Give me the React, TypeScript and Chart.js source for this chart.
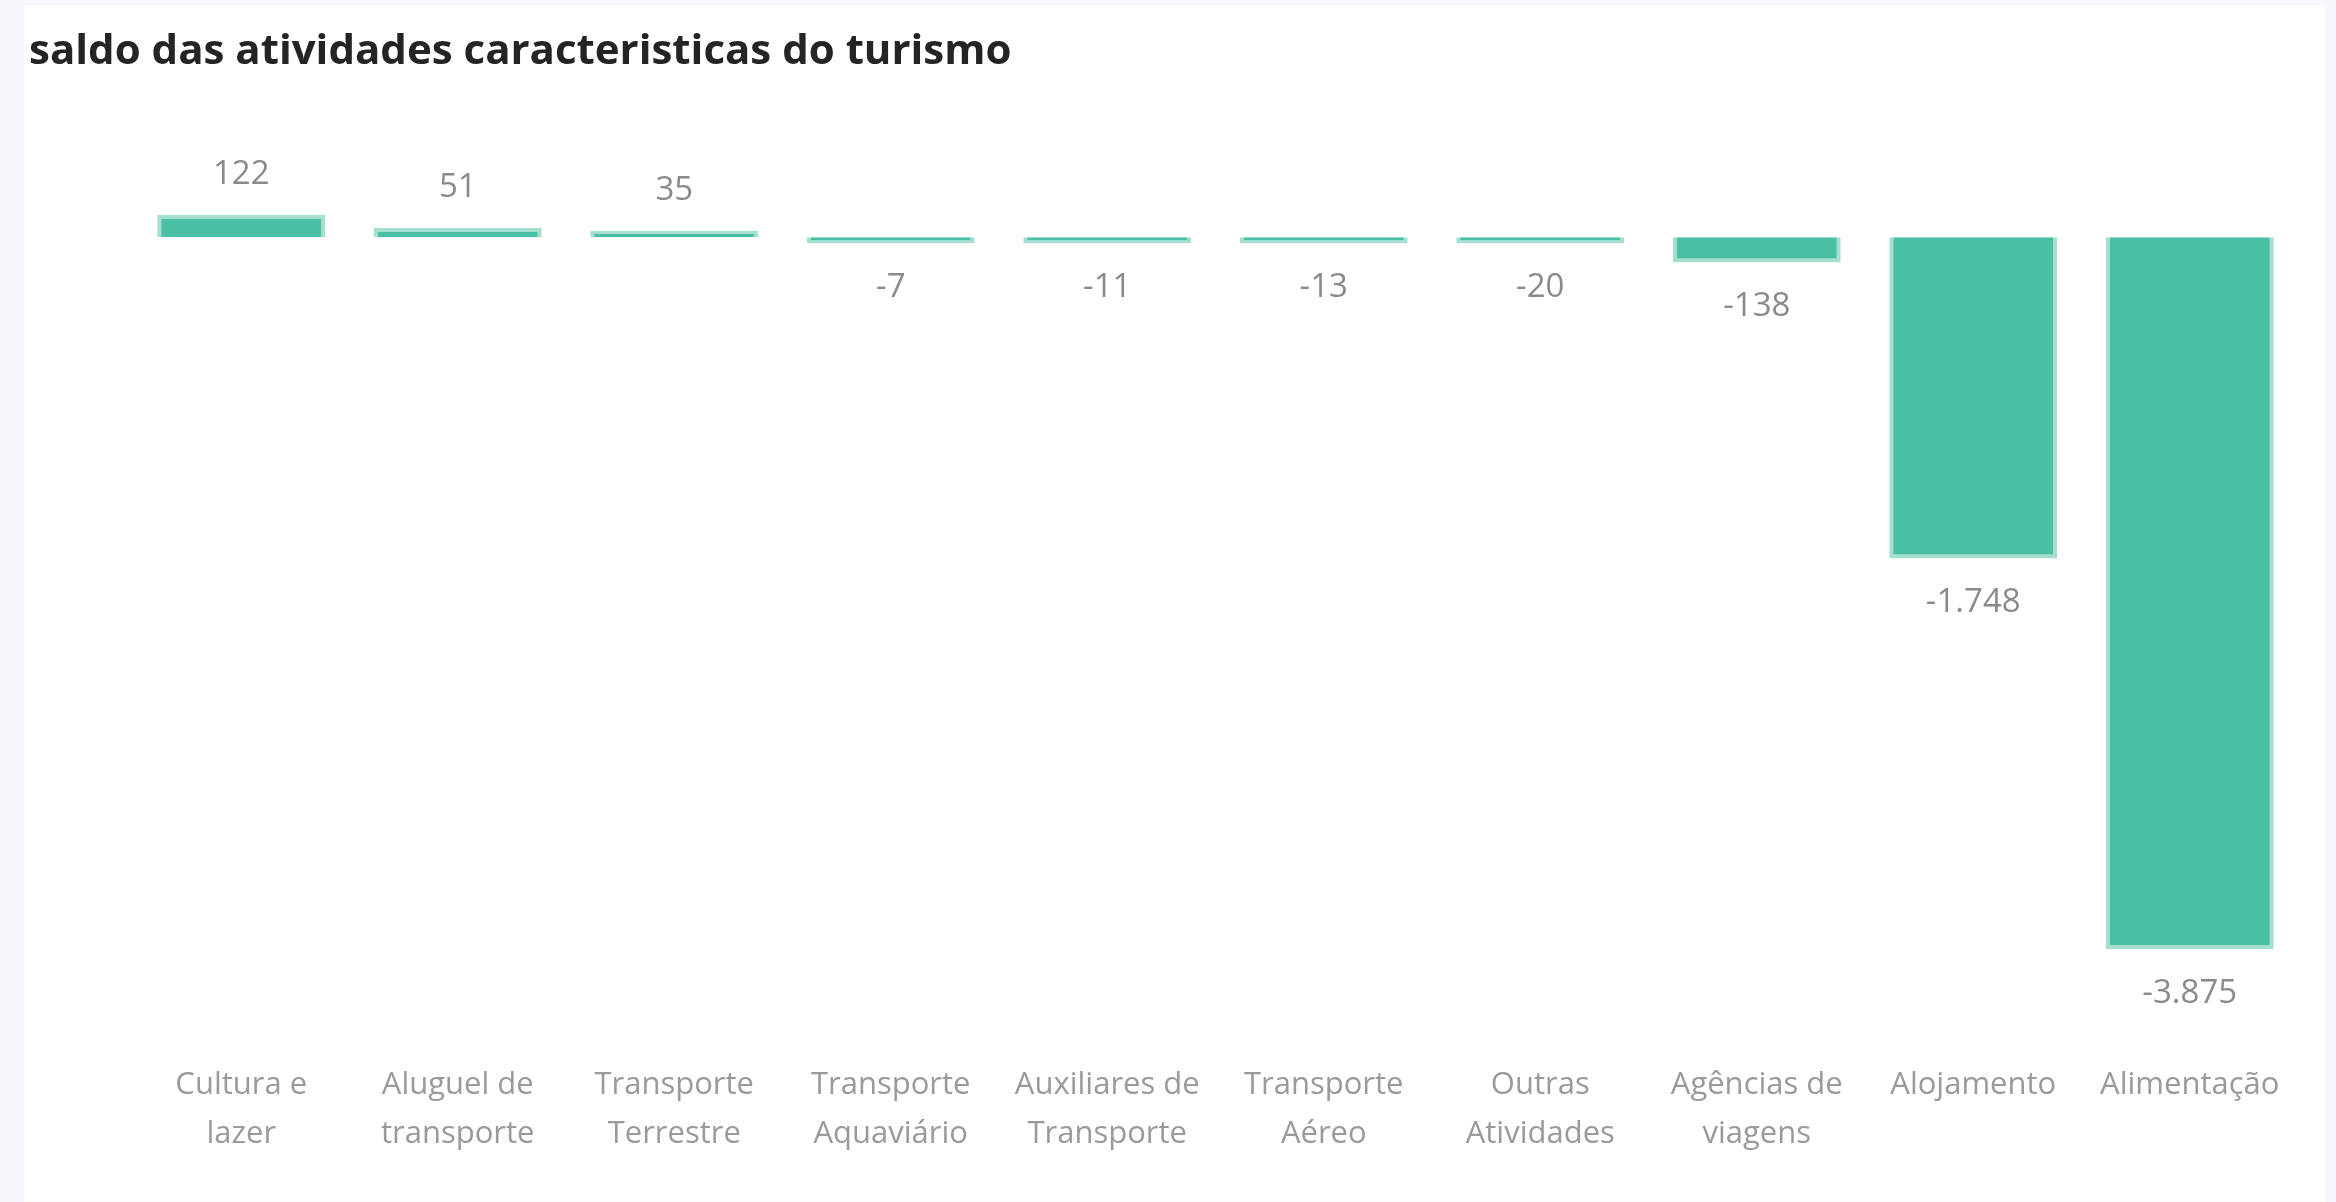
import React, { useEffect, useRef } from "react";
import { Chart, registerables } from "chart.js";

Chart.register(...registerables);

const categories: string[][] = [
  ["Cultura e", "lazer"],
  ["Aluguel de", "transporte"],
  ["Transporte", "Terrestre"],
  ["Transporte", "Aquaviário"],
  ["Auxiliares de", "Transporte"],
  ["Transporte", "Aéreo"],
  ["Outras", "Atividades"],
  ["Agências de", "viagens"],
  ["Alojamento"],
  ["Alimentação"],
];

const saldo: number[] = [122, 51, 35, -7, -11, -13, -20, -138, -1748, -3875];

const TITLE = "saldo das atividades caracteristicas do turismo";

function fmt(v: number): string {
  const s = Math.abs(v).toString().replace(/\B(?=(\d{3})+(?!\d))/g, ".");
  return (v < 0 ? "-" : "") + s;
}

const titlePlugin = {
  id: "leftTitle",
  afterDraw(chart: any) {
    const ctx = chart.ctx;
    ctx.save();
    ctx.font = "bold 42px 'Open Sans', sans-serif";
    ctx.fillStyle = "#252423";
    ctx.textAlign = "left";
    ctx.textBaseline = "middle";
    ctx.fillText(TITLE, 29, 52);
    ctx.restore();
  },
};

const labelPlugin = {
  id: "barLabels",
  afterDatasetsDraw(chart: any) {
    const ctx = chart.ctx;
    const meta = chart.getDatasetMeta(0);
    ctx.save();
    ctx.font = "33px 'Open Sans', sans-serif";
    ctx.fillStyle = "#8a8a8a";
    ctx.textAlign = "center";
    ctx.textBaseline = "middle";
    meta.data.forEach((el: any, i: number) => {
      const v = saldo[i];
      const y = v >= 0 ? el.y - 40 : el.y + 44;
      ctx.fillText(fmt(v), el.x, y);
    });
    ctx.restore();
  },
};

export default function App() {
  const ref = useRef<HTMLCanvasElement | null>(null);

  useEffect(() => {
    document.body.style.margin = "0";
    const chart = new Chart(ref.current as HTMLCanvasElement, {
      type: "bar",
      data: {
        labels: categories,
        datasets: [
          {
            data: saldo,
            backgroundColor: "#4bbfa3",
            borderColor: "#a6dfd0",
            borderWidth: 4,
            minBarLength: 6,
            categoryPercentage: 1,
            barPercentage: 0.776,
          },
        ],
      },
      options: {
        animation: false,
        responsive: false,
        layout: { padding: { left: 133, right: 38, top: 182, bottom: 43 } },
        plugins: {
          legend: { display: false },
          tooltip: { enabled: false },
          title: { display: false },
        },
        scales: {
          x: {
            grid: { display: false, drawTicks: false },
            border: { display: false },
            ticks: {
              color: "#9a9a9a",
              font: { family: "'Open Sans', sans-serif", size: 31, lineHeight: 1.58 },
              padding: 52,
              maxRotation: 0,
              autoSkip: false,
            },
            afterFit: (scale: any) => {
              scale.height = 150;
            },
          },
          y: {
            display: false,
            min: -4200,
            max: 300,
          },
        },
      },
      plugins: [labelPlugin, titlePlugin],
    });
    return () => chart.destroy();
  }, []);

  return (
    <div style={{ position: "relative", width: 2336, height: 1202, background: "#f7f8fd", overflow: "hidden" }}>
      <div style={{ position: "absolute", left: 24, top: 5, width: 2302, height: 1197, background: "#ffffff" }} />
      <canvas ref={ref} width={2336} height={1202} style={{ position: "absolute", left: 0, top: 0, width: 2336, height: 1202 }} />
    </div>
  );
}
